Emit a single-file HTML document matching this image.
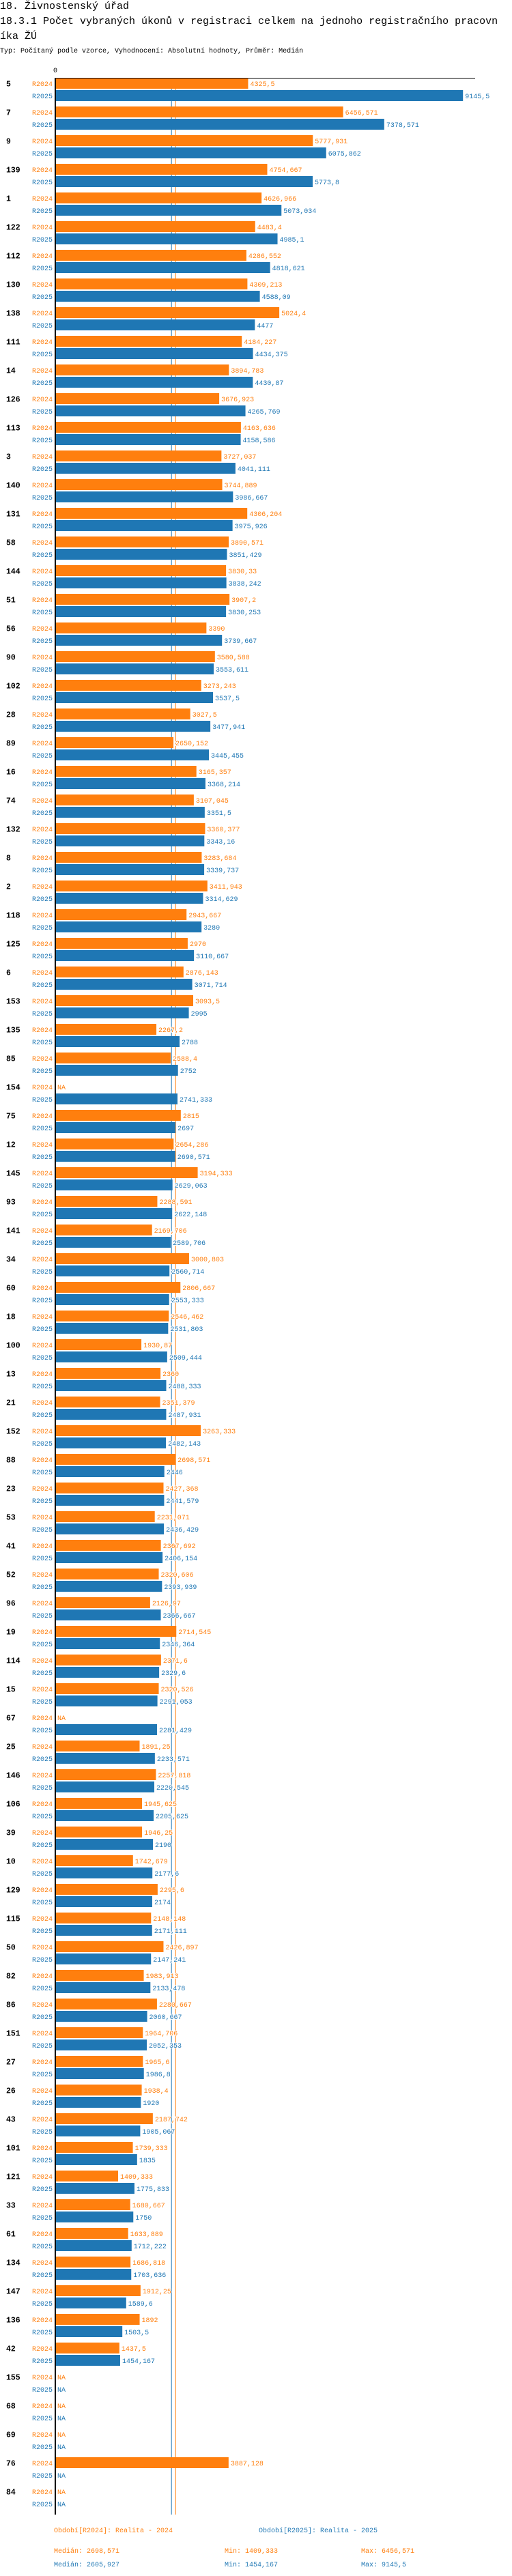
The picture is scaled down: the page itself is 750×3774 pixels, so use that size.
<!DOCTYPE html>
<html><head><meta charset="utf-8"><title>18.3.1 Počet vybraných úkonů</title>
<style>
html,body{margin:0;padding:0;background:#fff;}
svg{display:block;}
text{font-family:"Liberation Mono","DejaVu Sans Mono",monospace;}
.h1{font-size:15px;fill:#000;}
.sub{font-size:10px;fill:#000;}
.grp{font-size:11.5px;font-weight:bold;fill:#000;}
.ser{font-size:10px;}
.val{font-size:10px;paint-order:stroke;stroke:#fff;stroke-width:2px;}
.leg{font-size:10px;}
</style></head>
<body>
<svg id="chart" width="750" height="3774" viewBox="0 0 750 3774" xmlns="http://www.w3.org/2000/svg">
<text class="h1" x="0" y="13">18. Živnostenský úřad</text>
<text class="h1" x="0" y="35">18.3.1 Počet vybraných úkonů v registraci celkem na jednoho registračního pracovn</text>
<text class="h1" x="0" y="57">íka ŽÚ</text>
<text class="sub" x="0" y="77">Typ: Počítaný podle vzorce, Vyhodnocení: Absolutní hodnoty, Průměr: Medián</text>
<g id="plot"></g>
</svg>
<script>
const categories = ["5","7","9","139","1","122","112","130","138","111","14","126","113","3","140","131","58","144","51","56","90","102","28","89","16","74","132","8","2","118","125","6","153","135","85","154","75","12","145","93","141","34","60","18","100","13","21","152","88","23","53","41","52","96","19","114","15","67","25","146","106","39","10","129","115","50","82","86","151","27","26","43","101","121","33","61","134","147","136","42","155","68","69","76","84"];
const values2024 = [4325.5,6456.571,5777.931,4754.667,4626.966,4483.4,4286.552,4309.213,5024.4,4184.227,3894.783,3676.923,4163.636,3727.037,3744.889,4306.204,3890.571,3830.33,3907.2,3390,3580.588,3273.243,3027.5,2650.152,3165.357,3107.045,3360.377,3283.684,3411.943,2943.667,2970,2876.143,3093.5,2267.2,2588.4,null,2815,2654.286,3194.333,2288.591,2169.706,3000.803,2806.667,2546.462,1930.87,2360,2351.379,3263.333,2698.571,2427.368,2231.071,2367.692,2320.606,2126.97,2714.545,2371.6,2320.526,null,1891.25,2257.818,1945.625,1946.25,1742.679,2295.6,2148.148,2426.897,1983.913,2280.667,1964.706,1965.6,1938.4,2187.742,1739.333,1409.333,1680.667,1633.889,1686.818,1912.25,1892,1437.5,null,null,null,3887.128,null];
const values2025 = [9145.5,7378.571,6075.862,5773.8,5073.034,4985.1,4818.621,4588.09,4477,4434.375,4430.87,4265.769,4158.586,4041.111,3986.667,3975.926,3851.429,3838.242,3830.253,3739.667,3553.611,3537.5,3477.941,3445.455,3368.214,3351.5,3343.16,3339.737,3314.629,3280,3110.667,3071.714,2995,2788,2752,2741.333,2697,2690.571,2629.063,2622.148,2589.706,2560.714,2553.333,2531.803,2509.444,2488.333,2487.931,2482.143,2446,2441.579,2436.429,2406.154,2393.939,2366.667,2346.364,2329.6,2291.053,2281.429,2233.571,2220.545,2205.625,2190,2177.6,2174,2171.111,2147.241,2133.478,2060.667,2052.353,1986.8,1920,1905.067,1835,1775.833,1750,1712.222,1703.636,1589.6,1503.5,1454.167,null,null,null,null,null];
const seriesNames = ["R2024","R2025"];
const seriesColors = ["#ff7f0e","#1f77b4"];
const medians = [2698.571,2605.927];
const mins = [1409.333,1454.167];
const maxs = [6456.571,9145.5];
const legendTitles = ["Období[R2024]: Realita - 2024","Období[R2025]: Realita - 2025"];
const tickValues = [0];

const NS="http://www.w3.org/2000/svg";
const plot=document.getElementById('plot');
const X0=81, K=0.0653, TOP=114, PITCH=42, BH=16, GAP=18;
const xs=v=>X0+v*K;
const ys=(i,s)=>TOP+i*PITCH+s*GAP;
const fmt=v=>String(Math.round(v*1000)/1000).replace('.',',');
function mk(tag,attrs,txt){const e=document.createElementNS(NS,tag);for(const k in attrs)e.setAttribute(k,attrs[k]);if(txt!==undefined)e.textContent=txt;plot.appendChild(e);return e;}
const bottom=TOP+categories.length*PITCH;

// tick
tickValues.forEach(t=>{
  const e=mk('text',{x:xs(t),y:106,'text-anchor':'middle','class':'ser',fill:'#000'},String(t));
  
  
});
// median lines
medians.forEach((m,s)=>{
  const e=mk('line',{x1:xs(m),x2:xs(m),y1:TOP,y2:bottom,stroke:seriesColors[s],'stroke-width':1});
  
  
});
// bars
categories.forEach((c,i)=>{
  const g=mk('text',{x:9,y:ys(i,0)+12.5,'class':'grp'},c);
  
  
  [values2024,values2025].forEach((arr,s)=>{
    const v=arr[i], y=ys(i,s);
    const l=mk('text',{x:77,y:y+12,'text-anchor':'end','class':'ser',fill:seriesColors[s]},seriesNames[s]);
    
    
    if(v!==null){
      const r=mk('rect',{x:X0,y:y,width:v*K,height:BH,fill:seriesColors[s]});
      
      
    }
    const t=mk('text',{x:(v===null?X0:xs(v))+3,y:y+12,'class':'val',fill:seriesColors[s]},v===null?'NA':fmt(v));
    
    
  });
});
// axes
const ya=mk('line',{x1:X0,x2:X0,y1:TOP,y2:bottom,stroke:'#000','stroke-width':2});


const xa=mk('line',{x1:X0,x2:696,y1:TOP+0.5,y2:TOP+0.5,stroke:'#000','stroke-width':1});


// legend
legendTitles.forEach((t,s)=>{
  const e=mk('text',{x:79+s*300,y:3710,'class':'leg',fill:seriesColors[s]},t);
  
  
  const yy=3740+s*20;
  const a=mk('text',{x:79,y:yy,'class':'leg',fill:seriesColors[s]},'Medián: '+fmt(medians[s]));
  
  
  const b=mk('text',{x:329,y:yy,'class':'leg',fill:seriesColors[s]},'Min: '+fmt(mins[s]));
  
  
  const c=mk('text',{x:529,y:yy,'class':'leg',fill:seriesColors[s]},'Max: '+fmt(maxs[s]));
  
  
});
</script>
</body></html>
